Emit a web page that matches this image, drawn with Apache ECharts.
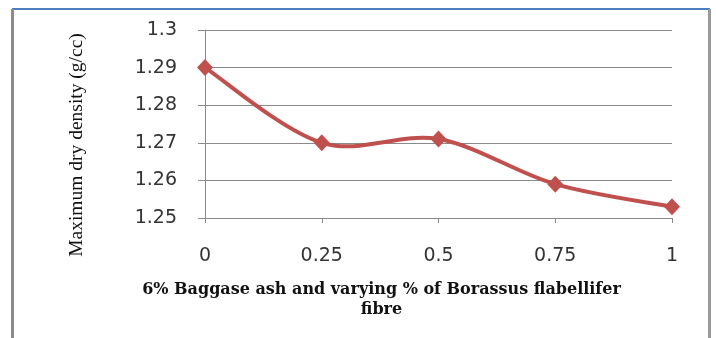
<!DOCTYPE html>
<html>
<head>
<meta charset="utf-8">
<script src="https://cdn.jsdelivr.net/npm/echarts@6/dist/echarts.min.js"></script>
<style>
html,body{margin:0;padding:0;background:#fff;}
#chart{width:716px;height:338px;}
</style>
</head>
<body>
<div id="chart"></div>
<script>
const xValues = [0, 0.25, 0.5, 0.75, 1];
const densityValues = [1.29, 1.27, 1.271, 1.259, 1.253];
const yAxisTitle = 'Maximum dry density (g/cc)';
const xAxisTitle = '6% Baggase ash and varying % of Borassus flabellifer\nfibre';

const chart = echarts.init(document.getElementById('chart'), null, {renderer: 'canvas'});
const seriesData = xValues.map((x, i) => [x, densityValues[i]]);
const LINE_COLOR = '#c0504d';

// Smooth curve (Catmull-Rom, like spreadsheet "smoothed line") through points mapped by the axes
function renderCurve(params, api) {
  if (params.dataIndex !== 0) return null;
  const pts = seriesData.map(d => api.coord(d));
  const n = pts.length;
  let path = 'M' + pts[0][0] + ' ' + pts[0][1];
  for (let i = 0; i < n - 1; i++) {
    const p0 = pts[Math.max(i - 1, 0)], p1 = pts[i], p2 = pts[i + 1], p3 = pts[Math.min(i + 2, n - 1)];
    const c1x = p1[0] + (p2[0] - p0[0]) / 6, c1y = p1[1] + (p2[1] - p0[1]) / 6;
    const c2x = p2[0] - (p3[0] - p1[0]) / 6, c2y = p2[1] - (p3[1] - p1[1]) / 6;
    path += ' C' + c1x + ' ' + c1y + ' ' + c2x + ' ' + c2y + ' ' + p2[0] + ' ' + p2[1];
  }
  return {
    type: 'path',
    shape: {pathData: path},
    style: {fill: 'none', stroke: LINE_COLOR, lineWidth: 4, lineJoin: 'round', lineCap: 'round'}
  };
}

chart.setOption({
  animation: false,
  backgroundColor: '#ffffff',
  grid: {left: 205, right: 44, top: 30, bottom: 120, containLabel: false, outerBoundsMode: 'none'},
  xAxis: {
    type: 'value', min: 0, max: 1, interval: 0.25,
    axisLine: {show: true, lineStyle: {color: '#8a8a8a', width: 1}},
    axisTick: {show: true, length: 5, inside: false, lineStyle: {color: '#8a8a8a'}},
    splitLine: {show: false},
    axisLabel: {color: '#333', fontFamily: 'DejaVu Sans', fontSize: 19, margin: 29,
      formatter: v => String(v)},
    name: xAxisTitle,
    nameLocation: 'middle',
    nameGap: 62,
    nameTextStyle: {fontFamily: 'DejaVu Serif', fontWeight: 'bold', fontSize: 16, color: '#111',
      lineHeight: 20, padding: [0, 114, 0, 0]}
  },
  yAxis: {
    type: 'value', min: 1.25, max: 1.3, interval: 0.01,
    axisLine: {show: true, lineStyle: {color: '#8a8a8a', width: 1}},
    axisTick: {show: true, length: 7, inside: false, lineStyle: {color: '#8a8a8a'}},
    splitLine: {show: true, lineStyle: {color: '#8a8a8a', width: 1}},
    axisLabel: {color: '#333', fontFamily: 'DejaVu Sans', fontSize: 19, margin: 28,
      formatter: v => String(Math.round(v * 100) / 100)},
  },
  graphic: [
    {type: 'rect', shape: {x: 12, y: 8, width: 698, height: 2}, style: {fill: '#4a7ec0'}, silent: true},
    {type: 'rect', shape: {x: 11, y: 9, width: 3, height: 329}, style: {fill: '#8c8c8c'}, silent: true},
    {type: 'rect', shape: {x: 708, y: 9, width: 3, height: 329}, style: {fill: '#9a9a9a'}, silent: true},
    {type: 'text', x: 77, y: 145, rotation: Math.PI / 2,
      style: {text: yAxisTitle, font: '19.5px "Liberation Serif"', fill: '#111',
        textAlign: 'center', textVerticalAlign: 'middle'}, silent: true}
  ],
  series: [
    {
      type: 'custom',
      name: 'curve',
      coordinateSystem: 'cartesian2d',
      data: seriesData,
      encode: {x: 0, y: 1},
      renderItem: renderCurve,
      z: 2
    },
    {
      type: 'scatter',
      name: 'Maximum dry density',
      data: seriesData,
      symbol: 'diamond',
      symbolSize: [16, 17],
      itemStyle: {color: LINE_COLOR, opacity: 1},
      z: 3
    }
  ]
});
</script>
</body>
</html>
